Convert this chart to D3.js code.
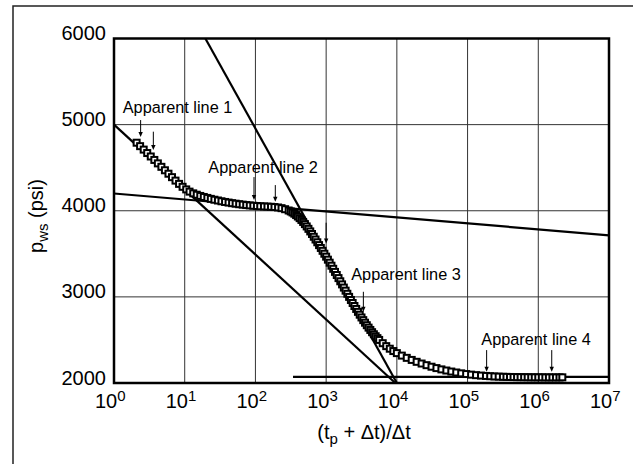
<!DOCTYPE html>
<html>
<head>
<meta charset="utf-8">
<script src="https://cdn.jsdelivr.net/npm/d3@7"></script>
<style>
  html, body { margin: 0; padding: 0; background: #fff; }
  svg { display: block; }
  text { font-family: "Liberation Sans", Arial, Helvetica, sans-serif; fill: #000; }
</style>
</head>
<body>
<svg id="chart" width="633" height="464"></svg>
<script>
// ---- data ----
const horner = [2.09, 2.34, 2.63, 2.95, 3.31, 3.72, 4.17, 4.68, 5.25, 5.89, 6.61, 7.41, 8.32, 9.33,
  10.5, 11.7, 13.2, 14.8, 16.6, 18.6, 20.9, 23.4, 26.3, 29.5, 33.1, 37.2, 41.7, 46.8, 52.5, 58.9,
  66.1, 74.1, 83.2, 93.3, 105, 117, 132, 148, 166, 186, 209, 234, 263, 295,
  316, 335, 355, 376, 398, 422, 447, 473, 501, 531, 562, 596, 631, 668, 708, 750, 794, 841, 891, 944,
  1000, 1059, 1122, 1189, 1259, 1334, 1413, 1496, 1585, 1679, 1778, 1884, 1995, 2113, 2239, 2371,
  2512, 2661, 2818, 2985, 3162, 3350, 3548, 3758, 3981, 4217, 4467, 4732, 5012, 5309, 5623,
  6310, 7079, 7943, 8913, 10000, 11750, 13800, 16220, 19050, 22390, 26300, 30900, 36310, 42660,
  50120, 58880, 69180, 81280, 95500, 112200, 131800, 154900, 182000, 208900, 239900, 275400,
  316200, 354800, 398100, 446700, 501200, 562300, 631000, 707900, 794300, 891300, 1000000,
  1122000, 1259000, 1413000, 1585000, 1778000, 1995000, 2188000];
const pws = [4790, 4750, 4710, 4670, 4630, 4590, 4550, 4510, 4470, 4430, 4390, 4350, 4312, 4278,
  4248, 4222, 4202, 4186, 4172, 4160, 4149, 4138, 4128, 4119, 4110, 4102, 4095, 4088, 4082, 4076,
  4071, 4066, 4062, 4058, 4055, 4052, 4050, 4048, 4046, 4043, 4038, 4030, 4018, 4003,
  3992, 3980, 3966, 3950, 3933, 3914, 3893, 3870, 3845, 3818, 3790, 3760, 3730, 3698, 3666, 3634, 3601, 3568, 3535, 3501,
  3467, 3432, 3397, 3362, 3326, 3290, 3254, 3218, 3181, 3145, 3108, 3072, 3036, 3000, 2964, 2929,
  2894, 2860, 2826, 2793, 2761, 2730, 2700, 2671, 2643, 2616, 2590, 2566, 2543, 2521, 2500,
  2462, 2428, 2398, 2371, 2347, 2318, 2292, 2268, 2246, 2226, 2207, 2189, 2173, 2158,
  2145, 2133, 2122, 2112, 2104, 2097, 2091, 2086, 2082, 2079, 2076, 2074,
  2072, 2071, 2070, 2069, 2068, 2068, 2067, 2067, 2066, 2066, 2066,
  2066, 2065, 2065, 2065, 2065, 2065, 2066];

// straight lines: [x, p] start and end
const lineStart = [[1, 5000], [19.6, 6000], [1, 4200], [340, 2072]];
const lineEnd   = [[9500, 2000], [10000, 2000], [1e7, 3715], [1e7, 2072]];

// annotations
const annoText = ["Apparent line 1", "Apparent line 2", "Apparent line 3", "Apparent line 4"];
const annoAt = [[1.33, 5135], [21.6, 4434], [2265, 3195], [156300, 2440]];
// arrows: [x, pTop, pTip]
const arrows = [[2.38, 5053, 4856], [3.6, 4918, 4705],
                [95.5, 4391, 4124], [191, 4298, 4105],
                [1000, 3861, 3621], [3360, 3059, 2827],
                [186000, 2382, 2130], [1550000, 2382, 2130]];

const xTicks = [1, 10, 100, 1000, 10000, 100000, 1000000, 10000000];
const xExp = ["0", "1", "2", "3", "4", "5", "6", "7"];
const yTicks = [2000, 3000, 4000, 5000, 6000];

// ---- layout ----
const svg = d3.select("#chart");
const L = 114, R = 609, T = 38.5, B = 383;
const x = d3.scaleLog().domain([1, 1e7]).range([L, R]);
const y = d3.scaleLinear().domain([2000, 6000]).range([B, T]);

// outer frame
svg.append("rect").attr("x", 13).attr("y", 6).attr("width", 700).attr("height", 600)
  .attr("fill", "none").attr("stroke", "#222").attr("stroke-width", 1.5);

// grid
const grid = svg.append("g");
grid.selectAll("line.v").data(xTicks.slice(1, -1)).enter().append("line")
  .attr("x1", d => x(d)).attr("x2", d => x(d)).attr("y1", T).attr("y2", B)
  .attr("stroke", "#333").attr("stroke-width", 1);
grid.selectAll("line.h").data(yTicks.slice(1, -1)).enter().append("line")
  .attr("x1", L).attr("x2", R).attr("y1", d => y(d)).attr("y2", d => y(d))
  .attr("stroke", "#333").attr("stroke-width", 1);

// straight lines
svg.append("g").selectAll("line").data(lineStart).enter().append("line")
  .attr("x1", d => x(d[0])).attr("y1", d => y(d[1]))
  .attr("x2", (d, i) => x(lineEnd[i][0])).attr("y2", (d, i) => y(lineEnd[i][1]))
  .attr("stroke", "#000").attr("stroke-width", 2.2);

// markers
const sz = 6;
svg.append("g").selectAll("rect").data(horner).enter().append("rect")
  .attr("x", d => x(d) - sz / 2).attr("y", (d, i) => y(pws[i]) - sz / 2)
  .attr("width", sz).attr("height", sz)
  .attr("fill", "#fff").attr("stroke", "#000").attr("stroke-width", 2);

// plot border
svg.append("rect").attr("x", L).attr("y", T).attr("width", R - L).attr("height", B - T)
  .attr("fill", "none").attr("stroke", "#000").attr("stroke-width", 2.5);

// annotations
svg.append("g").selectAll("text").data(annoText).enter().append("text")
  .attr("x", (d, i) => x(annoAt[i][0])).attr("y", (d, i) => y(annoAt[i][1]))
  .attr("font-size", 16.3).text(d => d);

const ag = svg.append("g");
arrows.forEach(a => {
  const ax = x(a[0]), y0 = y(a[1]), y1 = y(a[2]);
  ag.append("line").attr("x1", ax).attr("x2", ax).attr("y1", y0).attr("y2", y1 - 4)
    .attr("stroke", "#000").attr("stroke-width", 1);
  ag.append("path").attr("d", `M${ax - 2.2},${y1 - 5} L${ax + 2.2},${y1 - 5} L${ax},${y1} Z`)
    .attr("fill", "#000");
});

// y tick labels
svg.append("g").selectAll("text").data(yTicks).enter().append("text")
  .attr("x", L - 8).attr("y", d => y(d) + 1.5).attr("text-anchor", "end")
  .attr("font-size", 20).text(d => d);

// x tick labels
const xl = svg.append("g").selectAll("text").data(xTicks).enter().append("text")
  .attr("x", d => x(d) - 19).attr("y", 408).attr("font-size", 20);
xl.append("tspan").text("10");
xl.append("tspan").attr("dy", -7).attr("font-size", 15).text((d, i) => xExp[i]);

// axis titles
const xt = svg.append("text").attr("x", 364).attr("y", 439).attr("text-anchor", "middle").attr("font-size", 20);
xt.append("tspan").text("(t");
xt.append("tspan").attr("dy", 5).attr("font-size", 15).text("p");
xt.append("tspan").attr("dy", -5).text(" + \u0394t)/\u0394t");

const yt = svg.append("text").attr("transform", "translate(43,216) rotate(-90)")
  .attr("text-anchor", "middle").attr("font-size", 20);
yt.append("tspan").text("p");
yt.append("tspan").attr("dy", 5).attr("font-size", 15).text("ws");
yt.append("tspan").attr("dy", -5).text(" (psi)");
</script>
</body>
</html>
